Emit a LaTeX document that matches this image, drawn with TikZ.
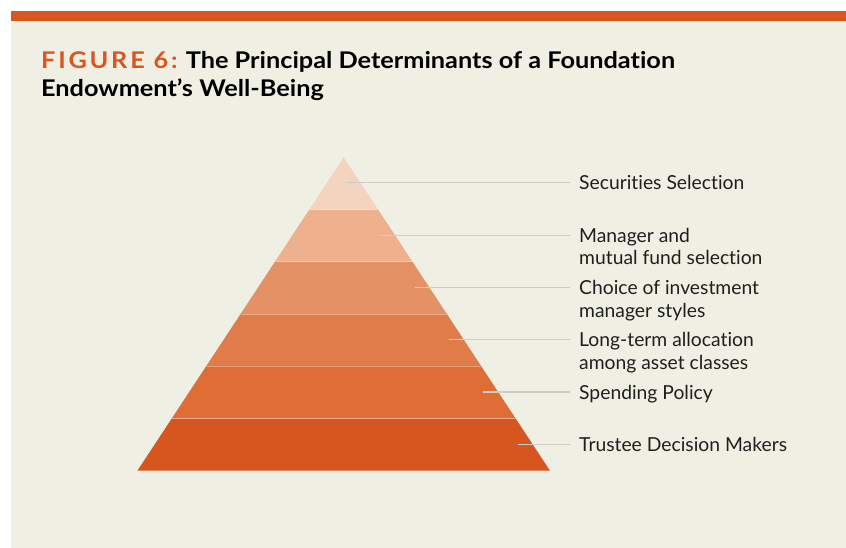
\documentclass[tikz,border=0pt]{standalone}
\usepackage{fontspec}
\setmainfont{Lato}[Ligatures=NoCommon]
\begin{document}
\definecolor{panel}{HTML}{F0EFE3}
\definecolor{accent}{HTML}{D8561F}
\definecolor{leader}{HTML}{CDCDCB}
\definecolor{tierA}{HTML}{F5D4BF}
\definecolor{tierB}{HTML}{EFB18D}
\definecolor{tierC}{HTML}{E59166}
\definecolor{tierD}{HTML}{E07C4A}
\definecolor{tierE}{HTML}{DE6D36}
\definecolor{tierF}{HTML}{D7551F}
\tikzset{
  leaderline/.style={draw=leader, line width=1.1pt},
  tierlabel/.style={anchor=base west, inner sep=0pt, align=left,
    font=\fontsize{19.3}{22.7}\selectfont, text=black!88},
  seam/.style={draw=white, draw opacity=0.35, line width=0.8pt},
}
\begin{tikzpicture}[x=1pt,y=-1pt]
  \useasboundingbox (0,0) rectangle (846,548);
  \fill[white] (0,0) rectangle (846,548);
  % panel and top rule
  \fill[panel] (11,11) rectangle (846,548);
  \fill[accent] (11,11) rectangle (846,20.7);
  % title (node baseline sits on its last line)
  \node[anchor=base west, inner sep=0pt, align=left,
        font=\bfseries\addfontfeatures{FakeStretch=1.1}\fontsize{23}{27.5}\selectfont] (title) at (41,96.5)
    {{\color{accent}\addfontfeatures{LetterSpace=12}FIGURE 6:} The Principal Determinants of a Foundation\\Endowment’s Well-Being};
  % pyramid tiers: apex (343.7,157.3), base y 470.7, half base 206.3
  \foreach \i/\c in {0/tierA,1/tierB,2/tierC,3/tierD,4/tierE,5/tierF}{
    \pgfmathsetmacro{\ya}{157.3+\i*52.233}
    \pgfmathsetmacro{\yb}{157.3+(\i+1)*52.233}
    \pgfmathsetmacro{\wa}{206.3*\i/6}
    \pgfmathsetmacro{\wb}{206.3*(\i+1)/6}
    \fill[\c] (343.7-\wa,\ya) -- (343.7+\wa,\ya) -- (343.7+\wb,\yb) -- (343.7-\wb,\yb) -- cycle;
  }
  \foreach \i in {1,...,5}{
    \pgfmathsetmacro{\ya}{157.3+\i*52.233}
    \pgfmathsetmacro{\wa}{206.3*\i/6}
    \draw[seam] (343.7-\wa+0.6,\ya) -- (343.7+\wa-0.6,\ya);
  }
  % leader anchor points inside each tier
  \coordinate (p1) at (345.7,182.9);
  \coordinate (p2) at (380.1,235.3);
  \coordinate (p3) at (414.5,287.5);
  \coordinate (p4) at (448.9,339.7);
  \coordinate (p5) at (483.3,392.0);
  \coordinate (p6) at (517.7,444.5);
  % labels (two-line labels: first line level with the leader)
  \node[tierlabel] (l1) at (579,182.9+7) {Securities Selection};
  \node[tierlabel] (l2) at (579,235.3+7+22.7) {Manager and\\mutual fund selection};
  \node[tierlabel] (l3) at (579,287.5+7+22.7) {Choice of investment\\manager styles};
  \node[tierlabel] (l4) at (579,339.7+7+22.7) {Long-term allocation\\among asset classes};
  \node[tierlabel] (l5) at (579,392.0+7) {Spending Policy};
  \node[tierlabel] (l6) at (579,444.5+7) {Trustee Decision Makers};
  \foreach \k in {1,...,6}{
    \draw[leaderline] (p\k) -- (p\k -| 570,0);
  }
\end{tikzpicture}
\end{document}
